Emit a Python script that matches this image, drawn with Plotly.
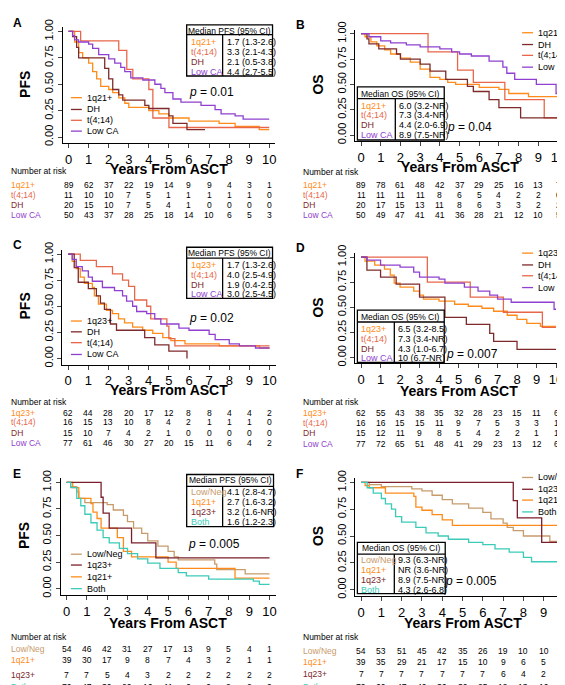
import plotly.graph_objects as go

W, H = 565, 685
FONT = "Liberation Sans"

ORANGE = "#FF8C1A"; T414 = "#E8674A"; DH = "#7E2A2A"; LOWCA = "#9040D0"
LOWNEG = "#C89B6C"; Q23 = "#7A1F2B"; BOTH = "#3CCBB8"

ticks_years = list(range(11))

# ---------------- data (step curves: event times, survival) ----------------
A_1q21_t = [0, .3, .5, .7, 1.0, 1.2, 1.4, 1.6, 2.0, 2.2, 2.5, 2.8, 3.0, 4.0, 4.5, 5.0, 6.0, 7.5, 8.3, 9.5, 10]
A_1q21_s = [1, .9, .8, .75, .7, .62, .55, .48, .45, .42, .37, .32, .28, .25, .22, .18, .15, .13, .10, .07, .07]
A_t414_t = [0, .6, 2.5, 2.9, 3.2, 4.0, 4.2, 5.0, 10]
A_t414_s = [1, .91, .82, .64, .55, .45, .18, .09, .09]
A_dh_t = [0, .2, .4, .5, .6, 1.8, 2.0, 2.2, 2.5, 2.7, 3.8, 4.0, 5.0, 5.2, 5.9, 6.8]
A_dh_s = [1, .95, .85, .75, .75, .65, .55, .45, .40, .35, .30, .27, .20, .13, .07, .07]
A_low_t = [0, .2, .3, .5, 1.0, 1.2, 1.5, 2.0, 2.3, 2.6, 2.8, 3.1, 3.7, 4.3, 4.6, 4.8, 5.2, 5.6, 6.6, 7.3, 7.6, 8.3, 8.7, 10]
A_low_s = [1, .96, .92, .9, .88, .84, .78, .74, .70, .66, .62, .56, .54, .50, .46, .42, .36, .33, .30, .26, .22, .20, .17, .17]

B_1q21_t = [0, .2, .5, .8, 1.2, 1.5, 2.0, 2.5, 3.0, 3.5, 4.0, 4.4, 4.8, 6.0, 7.0, 7.5, 8.5, 10]
B_1q21_s = [1, .97, .92, .88, .84, .80, .76, .72, .65, .57, .55, .52, .50, .47, .45, .41, .38, .38]
B_t414_t = [0, 3.4, 4.9, 5.7, 7.3, 9.3, 10]
B_t414_s = [1, .82, .64, .52, .35, .17, .17]
B_dh_t = [0, .3, .4, .9, 1.8, 2.0, 3.0, 3.5, 4.3, 5.4, 5.7, 6.5, 7.0, 8.1, 10]
B_dh_s = [1, .95, .90, .85, .80, .75, .70, .63, .55, .48, .43, .35, .27, .17, .17]
B_low_t = [0, .4, 1.0, 1.5, 2.3, 3.0, 4.0, 4.6, 5.0, 5.6, 6.5, 7.2, 7.4, 7.8, 8.9, 9.9, 10]
B_low_s = [1, .97, .93, .91, .89, .87, .85, .82, .80, .78, .73, .67, .61, .55, .50, .41, .41]

C_1q23_t = [0, .2, .4, .6, .8, 1.2, 1.3, 1.5, 1.9, 2.2, 2.5, 2.8, 3.2, 3.7, 4.2, 4.7, 5.1, 5.8, 7.5, 9.5, 10]
C_1q23_s = [1, .93, .86, .78, .72, .68, .60, .52, .46, .43, .38, .34, .30, .27, .24, .20, .17, .14, .12, .10, .10]
C_t414_t = [0, .6, 1.4, 2.2, 2.7, 3.0, 3.3, 3.9, 4.1, 4.9, 5.0, 5.3, 10]
C_t414_s = [1, .94, .88, .81, .75, .69, .56, .50, .38, .31, .19, .12, .12]
C_dh_t = [0, .3, .5, 1.0, 1.4, 1.6, 1.8, 2.1, 2.4, 3.8, 4.3, 5.0, 5.9]
C_dh_s = [1, .87, .73, .67, .60, .53, .47, .33, .27, .20, .13, .07, 0]
C_low_t = [0, .2, .4, .7, 1.0, 1.2, 1.7, 2.3, 2.7, 2.9, 3.2, 3.4, 3.9, 4.3, 4.6, 5.5, 6.0, 7.0, 7.3, 8.0, 8.5, 9.3, 10]
C_low_s = [1, .95, .88, .84, .78, .74, .68, .65, .60, .55, .50, .45, .43, .38, .33, .29, .27, .23, .18, .14, .12, .10, .10]

D_1q23_t = [0, .2, .7, 1.2, 1.5, 1.7, 2.0, 2.7, 3.0, 3.2, 4.0, 4.8, 5.5, 6.2, 6.8, 7.5, 8.0, 8.5, 9.2, 10]
D_1q23_s = [1, .96, .92, .88, .82, .74, .70, .66, .62, .58, .56, .53, .51, .49, .46, .42, .38, .34, .31, .31]
D_t414_t = [0, 3.4, 5.6, 7.3, 9.3, 10]
D_t414_s = [1, .75, .60, .45, .30, .30]
D_dh_t = [0, .3, 1.0, 1.8, 3.0, 4.3, 5.4, 6.6, 6.8, 8.0, 10]
D_dh_s = [1, .87, .80, .73, .60, .40, .33, .24, .16, .08, .08]
D_low_t = [0, .3, 1.0, 2.0, 2.7, 3.0, 4.0, 4.3, 5.3, 6.0, 6.6, 7.0, 7.7, 9.9, 10]
D_low_s = [1, .97, .92, .90, .85, .80, .78, .74, .70, .66, .62, .58, .55, .48, .48]

E_lown_t = [0, .2, .5, .6, .9, 2.0, 2.3, 2.8, 3.0, 3.3, 3.7, 4.0, 4.5, 5.0, 5.3, 5.5, 7.3, 7.4, 8.8, 10]
E_lown_s = [1, .96, .91, .85, .81, .79, .74, .69, .63, .57, .52, .45, .40, .35, .30, .27, .23, .18, .14, .14]
E_1q21_t = [0, .3, .6, 1.2, 1.3, 1.5, 1.7, 2.5, 2.8, 3.2, 5.0, 5.4, 8.3, 10]
E_1q21_s = [1, .95, .85, .80, .72, .66, .57, .48, .35, .30, .25, .19, .10, .10]
E_1q23_t = [0, 1.7, 1.8, 2.1, 3.2, 4.4, 10]
E_1q23_s = [1, .86, .71, .57, .43, .29, .29]
E_both_t = [0, .2, .5, .7, .9, 1.2, 1.5, 1.8, 2.1, 2.6, 3.0, 3.5, 4.0, 4.6, 5.5, 5.9, 7.0, 9.2, 9.5, 10]
E_both_s = [1, .95, .85, .78, .70, .62, .55, .48, .43, .38, .33, .28, .24, .19, .15, .12, .09, .07, .04, .04]

F_lown_t = [0, .4, 1.0, 2.5, 3.0, 3.5, 4.0, 4.5, 5.3, 6.0, 6.4, 7.0, 7.2, 7.5, 8.0, 9.3, 10]
F_lown_s = [1, .98, .96, .94, .92, .88, .84, .80, .76, .72, .66, .62, .58, .55, .50, .45, .35]
F_1q21_t = [0, .2, .4, 1.2, 2.6, 2.7, 3.0, 3.5, 4.0, 4.5, 10]
F_1q21_s = [1, .97, .95, .90, .87, .77, .74, .70, .65, .60, .60]
F_1q23_t = [0, 7.5, 7.7, 8.9, 10]
F_1q23_s = [1, .83, .67, .44, .44]
F_both_t = [0, .3, .6, 1.0, 1.2, 1.5, 1.7, 2.0, 2.7, 3.2, 3.8, 4.3, 5.3, 6.0, 6.6, 7.3, 8.0, 8.4, 10]
F_both_s = [1, .95, .90, .85, .80, .75, .68, .63, .58, .53, .50, .47, .44, .42, .38, .35, .30, .26, .26]

# risk tables
A_risk = [[89, 62, 37, 22, 19, 14, 9, 9, 4, 3, 1], [11, 10, 10, 7, 5, 1, 1, 1, 1, 1, 0],
          [20, 15, 10, 7, 5, 4, 1, 0, 0, 0, 0], [50, 43, 37, 28, 25, 18, 14, 10, 6, 5, 3]]
B_risk = [[89, 78, 61, 48, 42, 37, 29, 25, 16, 13, 7], [11, 11, 11, 11, 8, 6, 5, 4, 2, 2, 0],
          [20, 17, 15, 13, 11, 8, 6, 3, 3, 2, 2], [50, 49, 47, 41, 41, 36, 28, 21, 12, 10, 5]]
C_risk = [[62, 44, 28, 20, 17, 12, 8, 8, 4, 4, 2], [16, 15, 13, 10, 8, 4, 2, 1, 1, 1, 0],
          [15, 10, 7, 4, 2, 1, 0, 0, 0, 0, 0], [77, 61, 46, 30, 27, 20, 15, 11, 6, 4, 2]]
D_risk = [[62, 55, 43, 38, 35, 32, 28, 23, 15, 11, 6], [16, 16, 15, 15, 11, 9, 7, 5, 3, 3, 1],
          [15, 12, 11, 9, 8, 5, 4, 2, 2, 1, 1], [77, 72, 65, 51, 48, 41, 29, 23, 13, 12, 6]]
E_risk = [[54, 46, 42, 31, 27, 17, 13, 9, 5, 4, 1], [39, 30, 17, 9, 8, 7, 4, 3, 2, 1, 1],
          [7, 7, 5, 4, 3, 2, 2, 2, 2, 2, 2], [70, 47, 30, 20, 16, 11, 6, 6, 2, 2, 0]]
F_risk = [[54, 53, 51, 45, 42, 35, 26, 19, 10, 10, 3], [39, 35, 29, 21, 17, 15, 10, 9, 6, 5, 4],
          [7, 7, 7, 7, 7, 7, 7, 6, 4, 2, 2], [70, 60, 47, 40, 36, 30, 25, 19, 13, 10, 5]]

A_med = ["1.7 (1.3-2.6)", "3.3 (2.1-4.3)", "2.1 (0.5-3.8)", "4.4 (2.7-5.5)"]
B_med = ["6.0 (3.2-NR)", "7.3 (3.4-NR)", "4.4 (2.0-6.9)", "8.9 (7.5-NR)"]
C_med = ["1.7 (1.3-2.6)", "4.0 (2.5-4.9)", "1.9 (0.4-2.5)", "3.0 (2.5-4.5)"]
D_med = ["6.5 (3.2-8.5)", "7.3 (3.4-NR)", "4.3 (1.0-6.7)", "10 (6.7-NR)"]
E_med = ["4.1 (2.8-4.7)", "2.7 (1.6-3.2)", "3.2 (1.6-NR)", "1.6 (1.2-2.3)"]
F_med = ["9.3 (6.3-NR)", "NR (3.6-NR)", "8.9 (7.5-NR)", "4.3 (2.6-6.8)"]

fig = go.Figure()
shapes, annots = [], []

def px(x): return x / W
def py(y): return 1 - y / H
def clamp(v): return max(0.0, min(1.0, v))

def txt(x, y, s, size=9, color="black", xanchor="left", bold=False, angle=0):
    if bold: s = "<b>" + s + "</b>"
    annots.append(dict(x=px(x), y=py(y), xref="paper", yref="paper", text=s, showarrow=False,
                       xanchor=xanchor, yanchor="middle", textangle=angle,
                       font=dict(family=FONT, size=size, color=color)))

def rect(x0, y0, x1, y1):
    shapes.append(dict(type="rect", xref="paper", yref="paper", x0=px(x0), x1=px(x1),
                       y0=py(y1), y1=py(y0), line=dict(color="black", width=1.3), fillcolor="white", layer="above"))

def seg(x0, y0, x1, y1, color, w=1):
    shapes.append(dict(type="line", xref="paper", yref="paper", x0=px(x0), x1=px(x1),
                       y0=py(y0), y1=py(y1), line=dict(color=color, width=w), layer="above"))

panels = [
    dict(k="A", idx=1, x0=60.7, x10=261.7, y1=15.7, y0=123, ylab="PFS", title_y=155,
         series=[(A_1q21_t, A_1q21_s, ORANGE), (A_t414_t, A_t414_s, T414), (A_dh_t, A_dh_s, DH), (A_low_t, A_low_s, LOWCA)],
         names=["1q21+", "t(4;14)", "DH", "Low CA"], ncol=[ORANGE, T414, DH, LOWCA],
         leg=(63, [83, 95, 106, 117], ["1q21+", "DH", "t(4;14)", "Low CA"], [ORANGE, DH, T414, LOWCA]),
         risk=A_risk, risk_y=[158, 172, 182, 192, 202], labx=1,
         med=A_med, medhdr="Median PFS (95% CI)", box=(179, 9, 265, 61, 19, 215), medrows=[15, 26, 37, 47, 57],
         p=("0.01", 204, 77)),
    dict(k="B", idx=2, x0=353.7, x10=551, y1=18, y0=121, ylab="OS", title_y=153,
         series=[(B_1q21_t, B_1q21_s, ORANGE), (B_t414_t, B_t414_s, T414), (B_dh_t, B_dh_s, DH), (B_low_t, B_low_s, LOWCA)],
         names=["1q21+", "t(4;14)", "DH", "Low CA"], ncol=[ORANGE, T414, DH, LOWCA],
         leg=(515, [17, 29, 40, 52], ["1q21+", "DH", "t(4;14)", "Low CA"], [ORANGE, DH, T414, LOWCA]),
         risk=B_risk, risk_y=[159, 172, 182, 192, 202], labx=294,
         med=B_med, medhdr="Median OS (95% CI)", box=(350, 72, 437, 126, 84, 388), medrows=[79, 91, 101, 111, 121],
         p=("0.04", 462, 113)),
    dict(k="C", idx=3, x0=60.3, x10=262, y1=242, y0=348, ylab="PFS", title_y=380,
         series=[(C_1q23_t, C_1q23_s, ORANGE), (C_t414_t, C_t414_s, T414), (C_dh_t, C_dh_s, DH), (C_low_t, C_low_s, LOWCA)],
         names=["1q23+", "t(4;14)", "DH", "Low CA"], ncol=[ORANGE, T414, DH, LOWCA],
         leg=(63, [310, 321, 332, 344], ["1q23+", "DH", "t(4;14)", "Low CA"], [ORANGE, DH, T414, LOWCA]),
         risk=C_risk, risk_y=[392, 403, 413, 424, 434], labx=1,
         med=C_med, medhdr="Median PFS (95% CI)", box=(179, 235, 265, 287, 246, 215), medrows=[241, 253, 263, 273, 283],
         p=("0.02", 204, 307)),
    dict(k="D", idx=4, x0=353.7, x10=549, y1=245, y0=347, ylab="OS", title_y=381,
         series=[(D_1q23_t, D_1q23_s, ORANGE), (D_t414_t, D_t414_s, T414), (D_dh_t, D_dh_s, DH), (D_low_t, D_low_s, LOWCA)],
         names=["1q23+", "t(4;14)", "DH", "Low CA"], ncol=[ORANGE, T414, DH, LOWCA],
         leg=(515, [241, 253, 264, 276], ["1q23+", "DH", "t(4;14)", "Low CA"], [ORANGE, DH, T414, LOWCA]),
         risk=D_risk, risk_y=[392, 403, 414, 424, 435], labx=294,
         med=D_med, medhdr="Median OS (95% CI)", box=(350, 299, 437, 352, 311, 387), medrows=[306, 318, 328, 338, 348],
         p=("0.007", 465, 344)),
    dict(k="E", idx=5, x0=58.7, x10=262, y1=474, y0=582, ylab="PFS", title_y=617,
         series=[(E_lown_t, E_lown_s, LOWNEG), (E_1q21_t, E_1q21_s, ORANGE), (E_1q23_t, E_1q23_s, Q23), (E_both_t, E_both_s, BOTH)],
         names=["Low/Neg", "1q21+", "1q23+", "Both"], ncol=[LOWNEG, ORANGE, Q23, BOTH],
         leg=(63, [547, 558, 570, 582], ["Low/Neg", "1q23+", "1q21+", "Both"], [LOWNEG, Q23, ORANGE, BOTH]),
         risk=E_risk, risk_y=[631, 643, 655, 670, 682], labx=1,
         med=E_med, medhdr="Median PFS (95% CI)", box=(179, 466, 266, 519, 478, 215), medrows=[472, 484, 494, 504, 514],
         p=("0.005", 206, 537)),
    dict(k="F", idx=6, x0=353.7, x10=557, y1=474, y0=583, ylab="OS", title_y=617,
         series=[(F_lown_t, F_lown_s, LOWNEG), (F_1q21_t, F_1q21_s, ORANGE), (F_1q23_t, F_1q23_s, Q23), (F_both_t, F_both_s, BOTH)],
         names=["Low/Neg", "1q21+", "1q23+", "Both"], ncol=[LOWNEG, ORANGE, Q23, BOTH],
         leg=(515, [469, 481, 492, 504], ["Low/Neg", "1q23+", "1q21+", "Both"], [LOWNEG, Q23, ORANGE, BOTH]),
         risk=F_risk, risk_y=[631, 645, 657, 669, 682], labx=294,
         med=F_med, medhdr="Median OS (95% CI)", box=(350, 535, 438, 587, 547, 387), medrows=[541, 553, 563, 573, 583],
         p=("0.005", 464, 574)),
]

layout_axes = {}
for P in panels:
    i = P["idx"]
    sx = (P["x10"] - P["x0"]) / 10.0
    sy = (P["y0"] - P["y1"])
    xl = P["x0"] - 0.3 * sx
    xr = min(P["x0"] + 10.3 * sx, W)
    yb = P["y0"] + 0.06 * sy
    yt = P["y0"] - 1.04 * sy
    XR = [(xl - P["x0"]) / sx, (xr - P["x0"]) / sx]
    YR = [(P["y0"] - yb) / sy, (P["y0"] - yt) / sy]
    xa = "xaxis" if i == 1 else f"xaxis{i}"
    ya = "yaxis" if i == 1 else f"yaxis{i}"
    layout_axes[xa] = dict(domain=[clamp(px(xl)), clamp(px(xr))], range=XR, anchor=f"y{'' if i == 1 else i}",
                           tickvals=ticks_years, showline=True, linecolor="black", linewidth=1,
                           ticks="outside", ticklen=4, showgrid=False, zeroline=False,
                           tickfont=dict(family=FONT, size=13, color="black"))
    layout_axes[ya] = dict(domain=[clamp(py(yb)), clamp(py(yt))], range=YR, anchor=f"x{'' if i == 1 else i}",
                           tickvals=[0, .25, .5, .75, 1], ticktext=["0.00", "0.25", "0.50", "0.75", "1.00"],
                           tickangle=-90, showline=True, linecolor="black", linewidth=1,
                           ticks="outside", ticklen=4, showgrid=False, zeroline=False,
                           tickfont=dict(family=FONT, size=11, color="black"))
    xref = "x" if i == 1 else f"x{i}"; yref = "y" if i == 1 else f"y{i}"
    for (t, s, c) in P["series"]:
        fig.add_trace(go.Scatter(x=t, y=s, mode="lines", line=dict(color=c, width=1.3, shape="hv"),
                                 xaxis=xref, yaxis=yref, showlegend=False, hoverinfo="skip"))
    lx = 3 if P["labx"] == 1 else 287
    txt(lx, P["y1"] - 9, P["k"], size=12, bold=True)
    txt(xl - 37, (P["y0"] + P["y1"]) / 2, P["ylab"], size=14, bold=True, angle=-90, xanchor="center")
    txt((P["x0"] + P["x10"]) / 2, P["title_y"], "Years From ASCT", size=14, bold=True, xanchor="center")
    lgx, lgys, lgn, lgc = P["leg"]
    for yy, nm, cc in zip(lgys, lgn, lgc):
        seg(lgx, yy, lgx + 11, yy, cc, 1.3)
        txt(lgx + 14, yy, nm, size=9)
    pv, ppx, ppy = P["p"]
    txt(ppx, ppy, "<i>p</i> = " + pv, size=12, xanchor="center")
    ry = P["risk_y"]
    txt(P["labx"], ry[0], "Number at risk", size=8.5)
    for r, (row, nm, cc) in enumerate(zip(P["risk"], P["names"], P["ncol"])):
        txt(P["labx"], ry[r + 1], nm, size=8.5, color=cc)
        for k, v in enumerate(row):
            txt(P["x0"] + k * sx, ry[r + 1], str(v), size=8.5, xanchor="center")
    bx0, by0, bx1, by1, bh, bc = P["box"]
    rect(bx0, by0, bx1, by1)
    seg(bx0, bh, bx1, bh, "black", 1.3)
    seg(bc, bh, bc, by1, "black", 1.3)
    mr = P["medrows"]
    txt((bx0 + bx1) / 2, mr[0], P["medhdr"], size=8.5, xanchor="center")
    for r in range(4):
        txt(bx0 + 2, mr[r + 1], P["names"][r], size=9, color=P["ncol"][r])
        txt(bc + 2, mr[r + 1], P["med"][r], size=9)

fig.update_layout(width=W, height=H, margin=dict(l=0, r=0, t=0, b=0), paper_bgcolor="white",
                  plot_bgcolor="white", showlegend=False, shapes=shapes, annotations=annots, **layout_axes)
fig.write_html("out.html")
